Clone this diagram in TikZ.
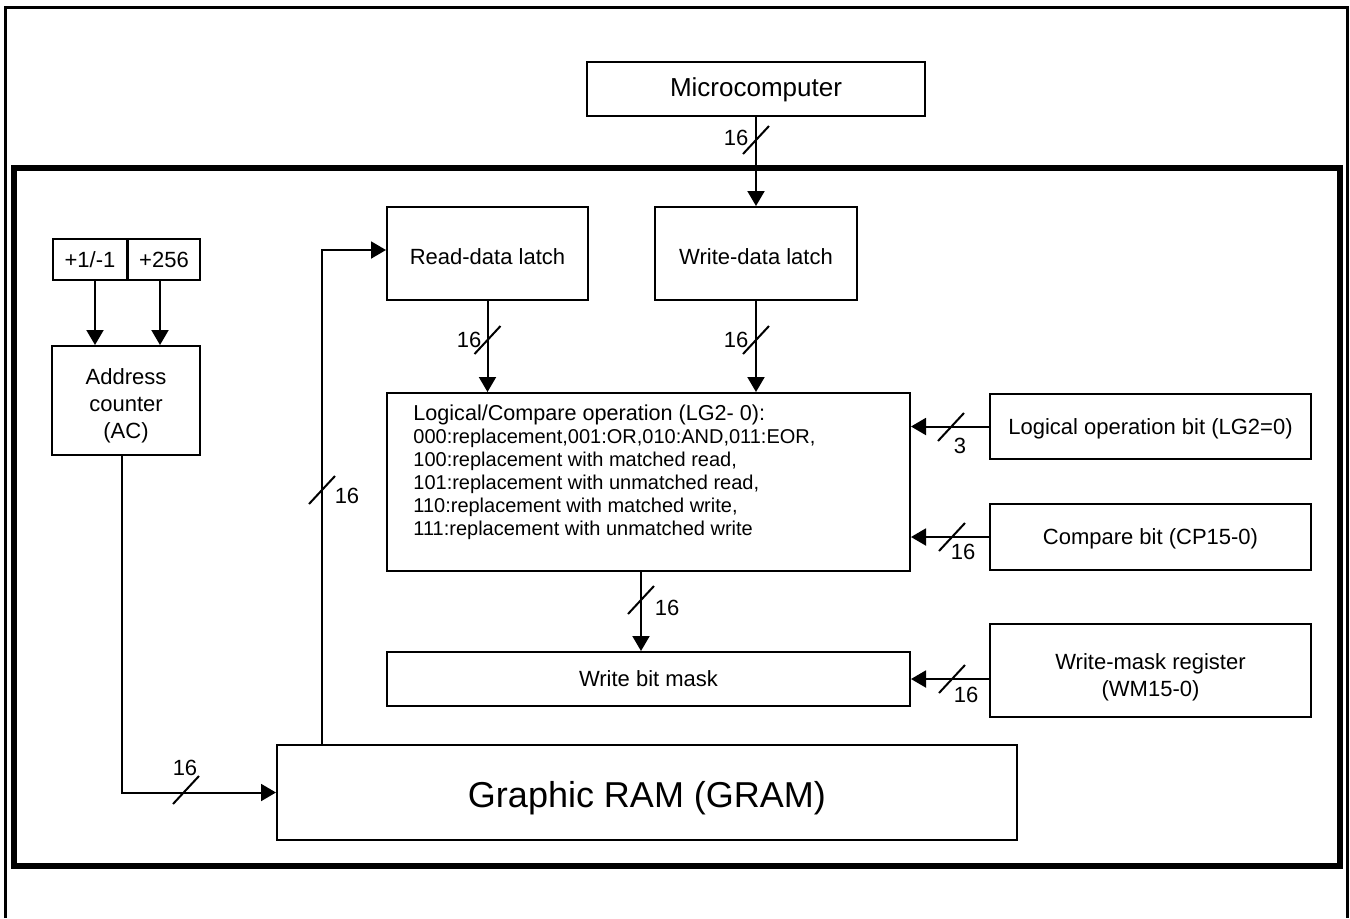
\documentclass[tikz,border=0pt]{standalone}
\usepackage{fontspec}
\setmainfont{Liberation Sans}
\usetikzlibrary{arrows.meta}
\begin{document}
\begin{tikzpicture}[x=0.5pt,y=-0.5pt,
  box/.style={draw,line width=1pt,inner sep=0pt,font=\fontsize{11}{13.5}\selectfont,align=center},
  arr/.style={line width=1pt,-{Triangle[length=7.5pt,width=8.5pt]}},
  lbl/.style={inner sep=0pt,font=\fontsize{11}{13}\selectfont},
  bus/.pic={\draw[line width=1pt] (-13,14) -- (13,-14);}
]
\useasboundingbox (0,0) rectangle (1350,918);
\fill[white] (0,0) rectangle (1350,918);
% outer frame
\draw[line width=1.5pt] (5.5,918) -- (5.5,7.5) -- (1347.5,7.5) -- (1347.5,918);
% inner frame
\draw[line width=2.8pt] (14,168) rectangle (1340,866);

% boxes
\node[box,minimum width=169pt,minimum height=27pt,font=\fontsize{13}{15}\selectfont,text height=10.5pt] (mc) at (756,89) {Microcomputer};
\node[box,minimum width=100.5pt,minimum height=46.5pt,text height=11pt] (rdl) at (487.5,253.5) {Read-data latch};
\node[box,minimum width=101pt,minimum height=46.5pt,text height=11pt] (wdl) at (756,253.5) {Write-data latch};
\node[box,minimum width=261.5pt,minimum height=89pt] (logic) at (648.5,482) {};
\node[anchor=west,inner sep=0pt,align=left,font=\fontsize{10}{11.5}\selectfont] (logictext) at (413,472)
  {{\fontsize{10.8}{11.5}\selectfont Logical/Compare operation (LG2- 0):}\\
   000:replacement,001:OR,010:AND,011:EOR,\\
   100:replacement with matched read,\\
   101:replacement with unmatched read,\\
   110:replacement with matched write,\\
   111:replacement with unmatched write};
\node[box,minimum width=160.5pt,minimum height=32.5pt,text height=10pt] (lob) at (1150.5,426.5) {Logical operation bit (LG2=0)};
\node[box,minimum width=160.5pt,minimum height=33pt,text height=10pt] (cb) at (1150.5,537) {Compare bit (CP15-0)};
\node[box,minimum width=160.5pt,minimum height=46.5pt] (wmr) at (1150.5,670.5) {\rule{0pt}{15pt}Write-mask register\\(WM15-0)};
\node[box,minimum width=261.5pt,minimum height=27pt] (wbm) at (648.5,679) {Write bit mask};
\node[box,minimum width=370pt,minimum height=47.5pt,font=\fontsize{18}{21}\selectfont,text height=19pt] (gram) at (647,792.5) {Graphic RAM (GRAM)};
\node[box,minimum width=74pt,minimum height=54.5pt] (ac) at (126,400.5) {\rule{0pt}{13pt}Address\\counter\\(AC)};
\node[box,minimum width=37pt,minimum height=20.5pt] (pm) at (90,259.5) {+1/-1};
\node[box,minimum width=36pt,minimum height=20.5pt] (p256) at (164,259.5) {+256};

% connector positions
\coordinate (xa) at (95,0);
\coordinate (xb) at (160,0);
\coordinate (xc) at (122,0);
\coordinate (xd) at (322,0);
\coordinate (xe) at (641,0);
\coordinate (yr) at (0,250);

% connectors
\draw[arr] (pm.south -| xa) -- (ac.north -| xa);
\draw[arr] (p256.south -| xb) -- (ac.north -| xb);
\draw[arr] (ac.south -| xc) |- (gram.west);
\draw[arr] (gram.north -| xd) |- (rdl.west |- yr);
\draw[arr] (mc.south) -- (wdl.north);
\draw[arr] (rdl.south) -- (rdl.south |- logic.north);
\draw[arr] (wdl.south) -- (wdl.south |- logic.north);
\draw[arr] (lob.west) -- (lob.west -| logic.east);
\draw[arr] (cb.west) -- (cb.west -| logic.east);
\draw[arr] (wmr.west |- wbm.east) -- (wbm.east);
\draw[arr] (logic.south -| xe) -- (wbm.north -| xe);

% bus slashes
\pic at (756,140) {bus};
\pic at (487.5,340) {bus};
\pic at (756,340) {bus};
\pic at (951,427) {bus};
\pic at (952,537) {bus};
\pic at (952,679) {bus};
\pic at (641,600) {bus};
\pic at (186,790) {bus};
\pic at (322,490) {bus};

% bus widths
\node[lbl] (b1) at (736,138) {16};
\node[lbl] (b2) at (469,340) {16};
\node[lbl] (b3) at (736,340) {16};
\node[lbl] (b4) at (960,446) {3};
\node[lbl] (b5) at (963,552) {16};
\node[lbl] (b6) at (966,695) {16};
\node[lbl] (b7) at (667,608) {16};
\node[lbl] (b8) at (185,768) {16};
\node[lbl] (b9) at (347,496) {16};
\end{tikzpicture}
\end{document}
